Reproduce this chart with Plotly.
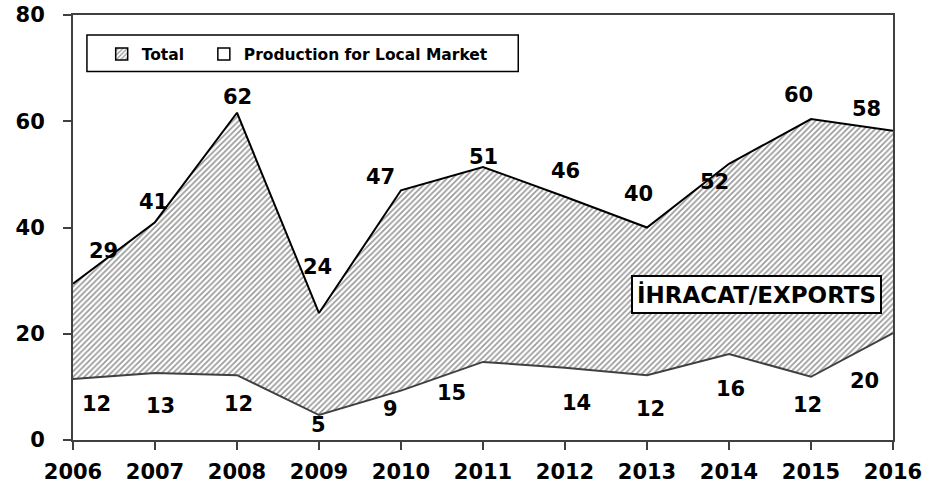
import plotly.graph_objects as go

years = [2006, 2007, 2008, 2009, 2010, 2011, 2012, 2013, 2014, 2015, 2016]
total = [29.4, 41.0, 61.6, 23.9, 47.0, 51.4, 45.8, 40.0, 52.0, 60.4, 58.2]
local = [11.5, 12.6, 12.2, 4.7, 9.3, 14.7, 13.6, 12.2, 16.2, 11.9, 20.1]
total_labels = ["29", "41", "62", "24", "47", "51", "46", "40", "52", "60", "58"]
local_labels = ["12", "13", "12", "5", "9", "15", "14", "12", "16", "12", "20"]
y_ticks = [0, 20, 40, 60, 80]

# label offsets in pixels (style)
total_dx = [30, -2, 0, -2, -21, 0, 0, -9, -15, -13, -27]
total_dy = [33, 20, 16, 46, 13, 10, 26, 34, -18, 24, 22]
local_dx = [23, 5, 1, -1, -11, -32, 11, 3, 1, -4, -29]
local_dy = [-25, -33, -29, -10, -18, -31, -35, -34, -35, -28, -48]

FONT = "DejaVu Sans"
HATCH = dict(shape="/", fgcolor="#303030", bgcolor="white", size=4, solidity=0.4)

fig = go.Figure()
fig.add_trace(go.Scatter(
    x=years, y=total, name="Total", mode="lines", showlegend=False,
    line=dict(color="black", width=2),
    fill="tozeroy", fillcolor="white", fillpattern=HATCH,
))
fig.add_trace(go.Scatter(
    x=years, y=local, name="Production for Local Market", mode="lines", showlegend=False,
    line=dict(color="#404040", width=2),
    fill="tozeroy", fillcolor="white",
))
# legend entries (square swatches)
fig.add_trace(go.Bar(x=[None], y=[None], name="<b>Total</b>&nbsp;&nbsp;&nbsp;",
                     marker=dict(color="white", line=dict(color="black", width=1.5), pattern=HATCH)))
fig.add_trace(go.Bar(x=[None], y=[None], name="<b>Production for Local Market</b>",
                     marker=dict(color="white", line=dict(color="black", width=1.5))))

annotations = []
for i, yr in enumerate(years):
    annotations.append(dict(x=yr, y=total[i], xref="x", yref="y", text="<b>%s</b>" % total_labels[i],
                            showarrow=False, xshift=total_dx[i], yshift=total_dy[i],
                            font=dict(family=FONT, size=21, color="black")))
    annotations.append(dict(x=yr, y=local[i], xref="x", yref="y", text="<b>%s</b>" % local_labels[i],
                            showarrow=False, xshift=local_dx[i], yshift=local_dy[i],
                            font=dict(family=FONT, size=21, color="black")))
annotations.append(dict(x=0.833, y=0.3435, xref="paper", yref="paper", xanchor="center", yanchor="middle",
                        text="<b>İHRACAT/EXPORTS</b>",
                        showarrow=False, bgcolor="white", bordercolor="black", borderwidth=2,
                        borderpad=4, font=dict(family=FONT, size=23, color="black")))

fig.update_layout(
    width=945, height=486,
    margin=dict(l=73, r=52, t=15, b=46),
    paper_bgcolor="white", plot_bgcolor="white",
    showlegend=True,
    legend=dict(orientation="h", x=0.035, y=0.947, xanchor="left", yanchor="top",
                borderwidth=0, bgcolor="rgba(0,0,0,0)",
                font=dict(family=FONT, size=15.5, color="black"),
                itemwidth=30, tracegroupgap=0),
    annotations=annotations,
    font=dict(family=FONT, color="black"),
    shapes=[dict(type="rect", xref="paper", yref="paper", x0=0.017, x1=0.543, y0=0.867, y1=0.953,
                 line=dict(color="black", width=1.5), fillcolor="white", layer="above")],
)
fig.update_xaxes(range=[2006, 2016], tickvals=years, ticktext=["<b>%d</b>" % y for y in years],
                 showline=True, linecolor="#404040", linewidth=2, mirror=True, automargin=False,
                 ticks="outside", ticklen=8, tickwidth=2, tickcolor="#404040",
                 showgrid=False, zeroline=False, ticklabelstandoff=4,
                 tickfont=dict(family=FONT, size=21, color="black"))
fig.update_yaxes(range=[0, 80], tickvals=y_ticks, ticktext=["<b>%d</b>" % v for v in y_ticks],
                 showline=True, linecolor="#404040", linewidth=2, mirror=True, automargin=False,
                 ticks="outside", ticklen=8, tickwidth=2, tickcolor="#404040",
                 showgrid=False, zeroline=False, ticklabelstandoff=14,
                 tickfont=dict(family=FONT, size=21, color="black"))

fig.write_html("out.html", config={"displayModeBar": False},
               post_script="document.body.style.margin='0';document.body.style.padding='0';")
